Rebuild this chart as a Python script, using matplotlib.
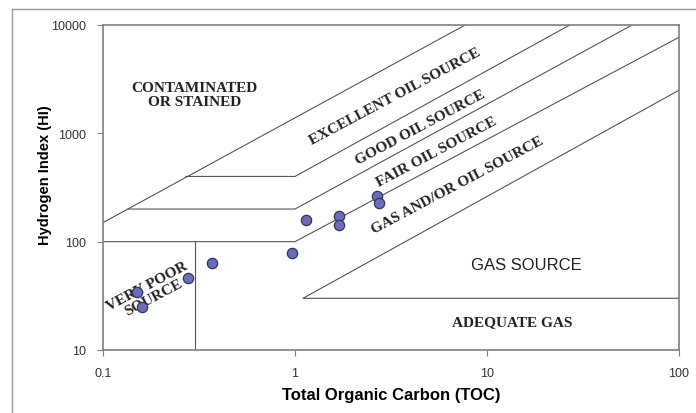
import matplotlib
matplotlib.use('Agg')
import matplotlib.pyplot as plt
from matplotlib.lines import Line2D

# sample points (TOC, HI)
toc = [0.150, 0.160, 0.277, 0.37, 0.965, 1.14, 1.69, 1.69, 2.67, 2.74]
hi = [34, 25, 46, 63, 79, 158, 173, 143, 264, 227]

# classification boundaries (TOC, HI) polylines
boundary_lines = [
    ([0.1, 7.7], [150, 10000]),
    ([0.27, 1.0, 27], [400, 400, 10000]),
    ([0.135, 1.0, 57], [200, 200, 10000]),
    ([0.1, 1.0, 100], [100, 100, 7700]),
    ([0.3, 0.3], [10, 100]),
    ([100, 1.1, 100], [30, 30, 2500]),
]

diag_labels = ['EXCELLENT OIL SOURCE', 'GOOD OIL SOURCE', 'FAIR OIL SOURCE', 'GAS AND/OR OIL SOURCE']
diag_x = [3.32, 4.48, 5.49, 6.98]
diag_y = [2210, 1146, 687, 333]

x_ticks = [0.1, 1, 10, 100]
x_ticklabels = ['0.1', '1', '10', '100']
y_ticks = [10, 100, 1000, 10000]
y_ticklabels = ['10', '100', '1000', '10000']

serif = 'Liberation Serif'
sans = 'Liberation Sans'

fig = plt.figure(figsize=(6.96, 4.14), dpi=100)
ax = fig.add_axes([103 / 696, 1 - 351 / 414, (679 - 103) / 696, (351 - 26) / 414])

# outer chart border
fig.add_artist(Line2D([12 / 696, 1], [1 - 10 / 414, 1 - 10 / 414], color='#9a9a9a', lw=1))
fig.add_artist(Line2D([12 / 696, 12 / 696], [0, 1 - 10 / 414], color='#9a9a9a', lw=1))

for xs, ys in boundary_lines:
    ax.plot(xs, ys, color='#555555', lw=0.8, zorder=2)

ax.scatter(toc, hi, s=55, color='#6b6db8', edgecolor='#2f3560', linewidth=0.9, zorder=4)

ax.set_xscale('log')
ax.set_yscale('log')
ax.set_xlim(0.1, 100)
ax.set_ylim(10, 10000)
ax.set_xticks(x_ticks)
ax.set_xticklabels(x_ticklabels)
ax.set_yticks(y_ticks)
ax.set_yticklabels(y_ticklabels)
ax.minorticks_off()
ax.tick_params(length=4, color='#7f7f7f', labelsize=9, labelcolor='#333333')
ax.tick_params(axis='x', pad=8)
ax.tick_params(axis='y', pad=8)
for lbl in ax.get_xticklabels() + ax.get_yticklabels():
    lbl.set_fontfamily(sans)
for sp in ax.spines.values():
    sp.set_color('#7f7f7f')
    sp.set_linewidth(1.2)

ax.set_xlabel('Total Organic Carbon (TOC)', fontsize=12, fontweight='bold', family=sans)
ax.xaxis.set_label_coords(0.5, -0.115)
ax.set_ylabel('Hydrogen Index (HI)', fontsize=10.5, fontweight='bold', family=sans)
ax.yaxis.set_label_coords(-0.088, 0.54)

lbl_kw = dict(family=serif, fontweight='bold', fontsize=11, color='#222222', ha='center', va='center')
ax.text(0.30, 2260, 'CONTAMINATED\nOR STAINED', linespacing=1.1, **lbl_kw)
for t, x, y in zip(diag_labels, diag_x, diag_y):
    ax.text(x, y, t, rotation=28, rotation_mode='anchor', **lbl_kw)
ax.text(0.176, 35, 'VERY POOR\nSOURCE', rotation=28, linespacing=1.0, **lbl_kw)
ax.text(13.6, 18.1, 'ADEQUATE GAS', **lbl_kw)
ax.text(16.1, 61, 'GAS SOURCE', family=sans, fontsize=12, color='#222222', ha='center', va='center')

fig.savefig('out.png', dpi=100)
